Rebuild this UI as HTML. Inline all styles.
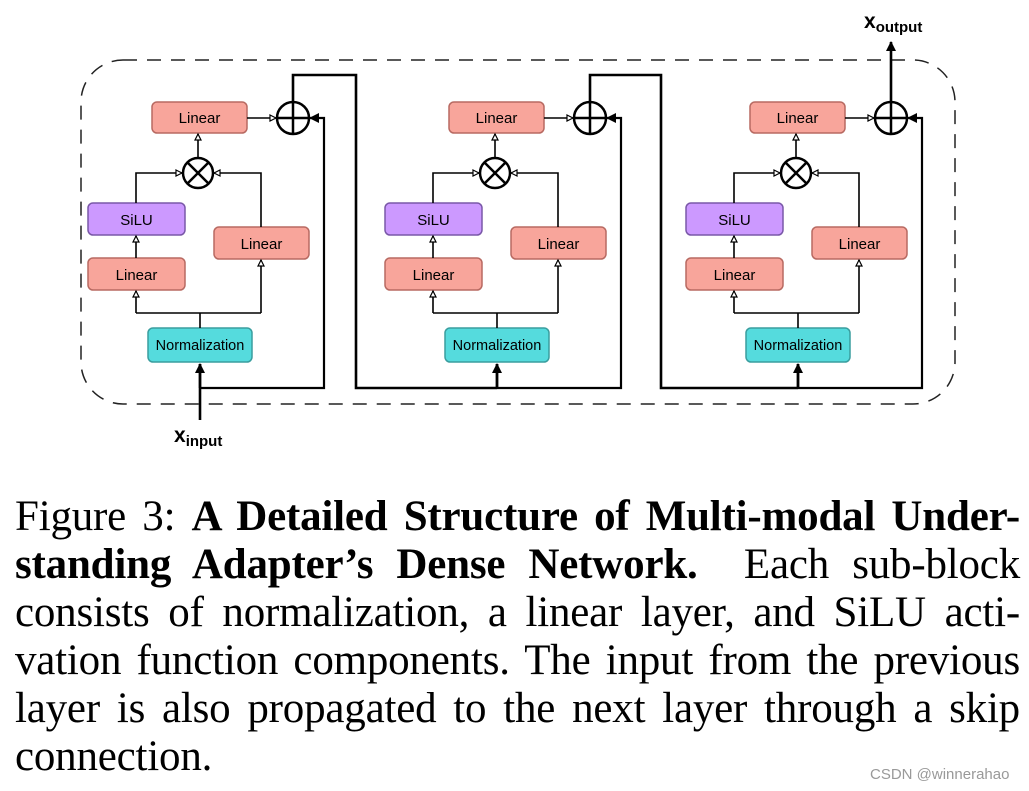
<!DOCTYPE html>
<html><head><meta charset="utf-8"><style>
body{margin:0;background:#fff;width:1029px;height:791px;overflow:hidden;position:relative}
svg{position:absolute;left:0;top:0}
.cap{position:absolute;left:15px;width:1005px;font-family:"Liberation Serif",serif;font-size:43px;line-height:48px;color:#000}
.cap div{text-align:justify;text-align-last:justify;white-space:nowrap;height:48px;letter-spacing:-0.2px}
.cap div.last{text-align-last:left}
.wm{position:absolute;left:870px;top:766px;font-family:"Liberation Sans","Noto Sans CJK SC",sans-serif;font-size:15px;color:#999}
</style></head><body>
<svg width="1029" height="460" viewBox="0 0 1029 460" font-family="Liberation Sans, sans-serif">
<defs>
<marker id="a" markerWidth="8" markerHeight="8" refX="7" refY="4" orient="auto" markerUnits="userSpaceOnUse"><path d="M1,1 L7,4 L1,7 Z" fill="#fff" stroke="#000" stroke-width="1.2"/></marker>
<marker id="b" markerWidth="10" markerHeight="10" refX="9" refY="5" orient="auto" markerUnits="userSpaceOnUse"><path d="M0,0 L10,5 L0,10 Z" fill="#000"/></marker>
<g id="blk">
<rect x="152" y="102" width="95" height="31" rx="5" fill="#f8a59b" stroke="#b86a62" stroke-width="1.5"/>
<text x="199.5" y="123" font-size="15" text-anchor="middle">Linear</text>
<rect x="88" y="203" width="97" height="32" rx="5" fill="#cc99ff" stroke="#7a58a8" stroke-width="1.5"/>
<text x="136.5" y="225" font-size="15" text-anchor="middle">SiLU</text>
<rect x="88" y="258" width="97" height="32" rx="5" fill="#f8a59b" stroke="#b86a62" stroke-width="1.5"/>
<text x="136.5" y="280" font-size="15" text-anchor="middle">Linear</text>
<rect x="214" y="227" width="95" height="32" rx="5" fill="#f8a59b" stroke="#b86a62" stroke-width="1.5"/>
<text x="261.5" y="249" font-size="15" text-anchor="middle">Linear</text>
<rect x="148" y="328" width="104" height="34" rx="5" fill="#55dbdd" stroke="#3a9e9f" stroke-width="1.5"/>
<text x="200" y="350" font-size="14.5" text-anchor="middle">Normalization</text>
<g fill="none" stroke="#000" stroke-width="1.6">
<circle cx="198" cy="173" r="15" stroke-width="2.5"/>
<path d="M187.5,162.5 L208.5,183.5 M208.5,162.5 L187.5,183.5" stroke-width="2.5"/>
<circle cx="293" cy="118" r="16" stroke-width="2.5"/>
<path d="M277,118 H309 M293,102 V134" stroke-width="2.5"/>
<path d="M200,328 V313 M136,313 H261 M136,313 V291" marker-end="url(#a)"/>
<path d="M261,313 V260" marker-end="url(#a)"/>
<path d="M136,258 V236" marker-end="url(#a)"/>
<path d="M136,203 V173 H182" marker-end="url(#a)"/>
<path d="M261,227 V173 H214" marker-end="url(#a)"/>
<path d="M198,158 V134" marker-end="url(#a)"/>
<path d="M247,118 H276" marker-end="url(#a)"/>
<path d="M200,388 H324 V118 H310" stroke-width="2.2" marker-end="url(#b)"/>
<path d="M200,388 V364" stroke-width="2.8" marker-end="url(#b)"/>
</g>
</g>
</defs>
<rect x="81" y="60" width="874" height="344" rx="42" fill="none" stroke="#222" stroke-width="1.5" stroke-dasharray="14,10"/>
<use href="#blk"/>
<use href="#blk" x="297"/>
<use href="#blk" x="598"/>
<g fill="none" stroke="#000" stroke-width="2.6">
<path d="M200,420 V388"/>
<path d="M293,102 V75 H356 V388 H497"/>
<path d="M590,102 V75 H661 V388 H798"/>
<path d="M891,102 V42" marker-end="url(#b)"/>
</g>
<text x="174" y="442" font-size="21" font-weight="bold">x<tspan font-size="15" dy="4">input</tspan></text>
<text x="864" y="28" font-size="21" font-weight="bold">x<tspan font-size="15" dy="4">output</tspan></text>
</svg>
<div class="cap" style="top:493px">
<div>Figure 3: <b>A Detailed Structure of Multi-modal Under-</b></div>
<div><b>standing Adapter’s Dense Network.</b>&nbsp; Each sub-block</div>
<div>consists of normalization, a linear layer, and SiLU acti-</div>
<div>vation function components. The input from the previous</div>
<div>layer is also propagated to the next layer through a skip</div>
<div class="last">connection.</div>
</div>
<div class="wm">CSDN @winnerahao</div>
</body></html>
